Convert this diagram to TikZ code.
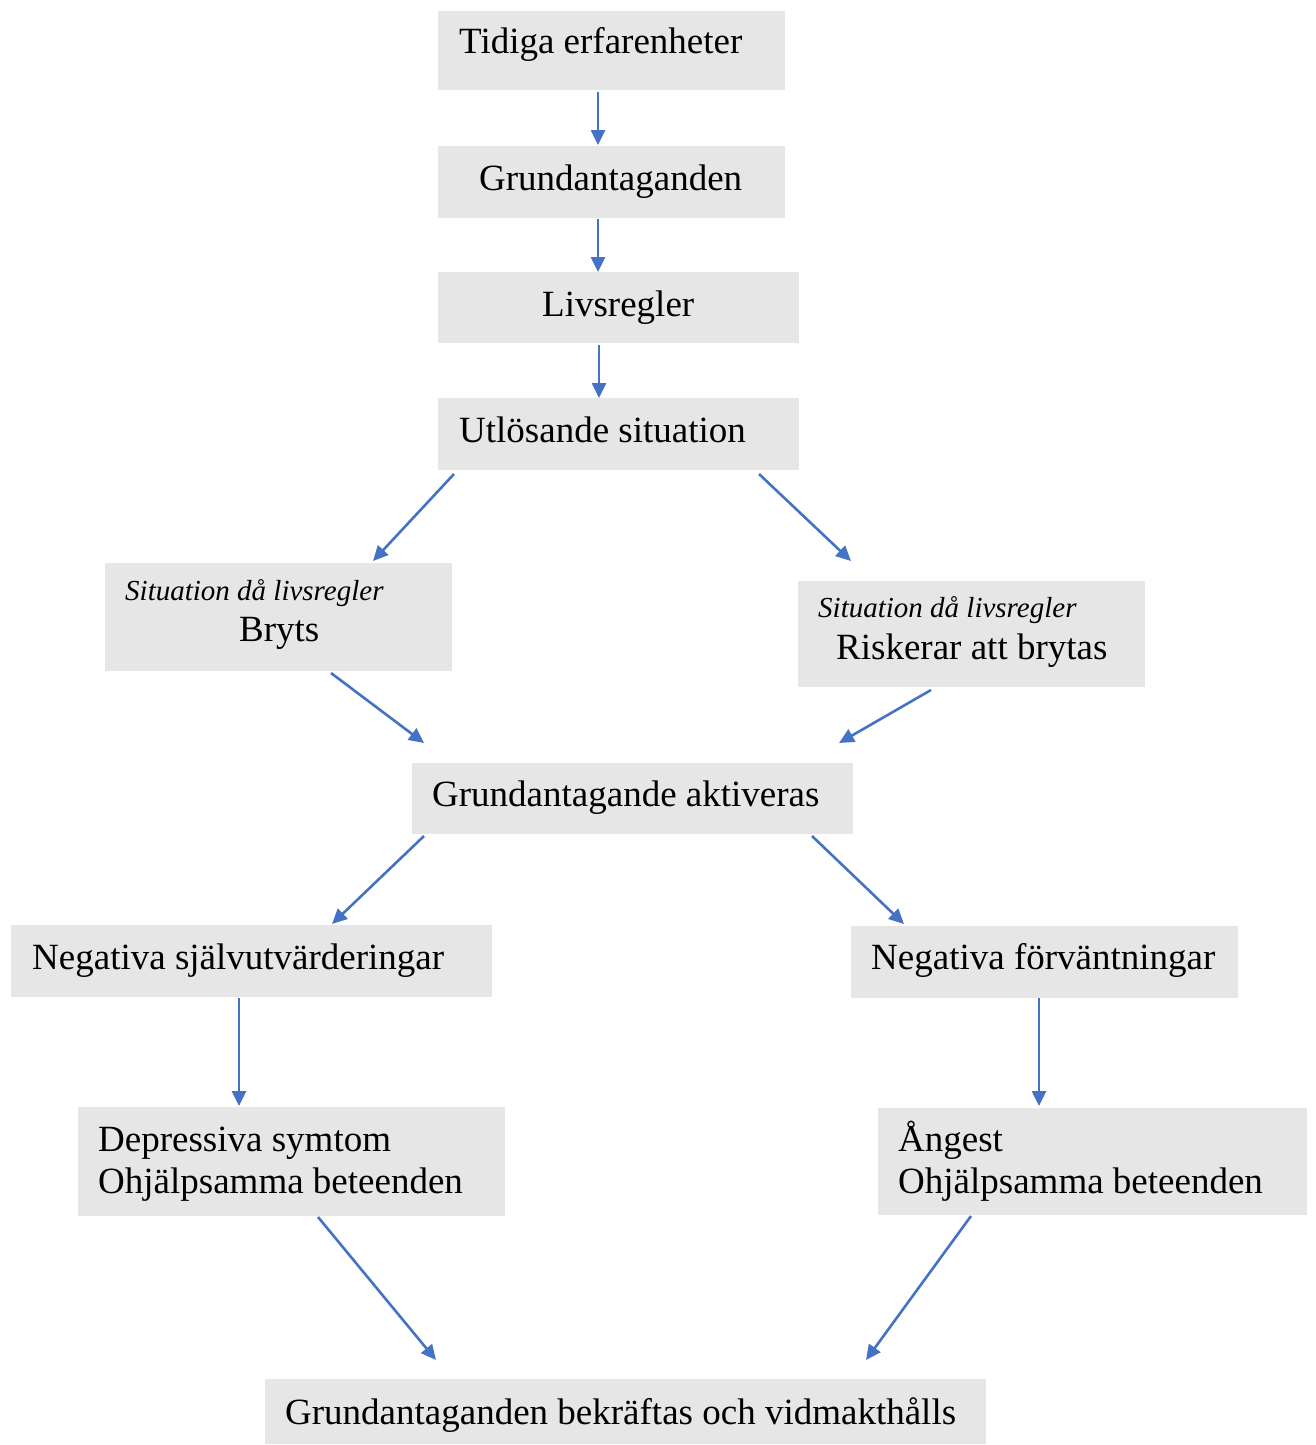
\documentclass[tikz,border=0pt]{standalone}
\usepackage{fontspec}
\setmainfont{Liberation Serif}
\usetikzlibrary{arrows.meta}
\definecolor{boxgray}{HTML}{E6E6E6}
\definecolor{arrowblue}{HTML}{4472C4}
\tikzset{
  box/.style={fill=boxgray, draw=none, inner sep=0pt, anchor=north west},
  txt/.style={anchor=base west, inner sep=0pt, font=\fontsize{37}{44}\selectfont},
  itxt/.style={anchor=base west, inner sep=0pt, font=\fontsize{29}{34}\selectfont\itshape},
  arr/.style={draw=arrowblue, line width=2.6pt, -{Triangle[length=15pt,width=14pt]}}
}
\newcommand{\boxat}[5]{\node[box, minimum width=#4pt, minimum height=#5pt] (#1) at (#2,#3) {};}
\begin{document}
\begin{tikzpicture}[x=1pt,y=-1pt]
\useasboundingbox (0,0) rectangle (1315,1445);
% boxes
\boxat{b1}{438}{11}{347}{79}
\boxat{b2}{438}{146}{347}{72}
\boxat{b3}{438}{272}{361}{71}
\boxat{b4}{438}{398}{361}{72}
\boxat{b5}{105}{563}{347}{108}
\boxat{b6}{798}{581}{347}{106}
\boxat{b7}{412}{763}{441}{71}
\boxat{b8}{11}{925}{481}{72}
\boxat{b9}{851}{926}{387}{72}
\boxat{b10}{78}{1107}{427}{109}
\boxat{b11}{878}{1108}{429}{107}
\boxat{b12}{265}{1379}{721}{65}
% texts
\node[txt] (t1) at (459,54) {Tidiga erfarenheter};
\node[txt] (t2) at (479,190) {Grundantaganden};
\node[txt] (t3) at (542,316) {Livsregler};
\node[txt] (t4) at (459,442) {Utlösande situation};
\node[itxt] (t5a) at (125,600) {Situation då livsregler};
\node[txt] (t5b) at (239,641) {Bryts};
\node[itxt] (t6a) at (818,617) {Situation då livsregler};
\node[txt] (t6b) at (836,659) {Riskerar att brytas};
\node[txt] (t7) at (432,806) {Grundantagande aktiveras};
\node[txt] (t8) at (32,969) {Negativa självutvärderingar};
\node[txt] (t9) at (871,969) {Negativa förväntningar};
\node[txt] (t10a) at (98,1151) {Depressiva symtom};
\node[txt] (t10b) at (98,1193) {Ohjälpsamma beteenden};
\node[txt] (t11a) at (898,1151) {Ångest};
\node[txt] (t11b) at (898,1193) {Ohjälpsamma beteenden};
\node[txt] (t12) at (285,1424) {Grundantaganden bekräftas och vidmakthålls};
% arrow endpoints
\coordinate (a1s) at (598,92);   \coordinate (a1e) at (598,145);
\coordinate (a2s) at (598,219);  \coordinate (a2e) at (598,272);
\coordinate (a3s) at (599,345);  \coordinate (a3e) at (599,398);
\coordinate (a4s) at (454,474);  \coordinate (a4e) at (373,561);
\coordinate (a5s) at (759,474);  \coordinate (a5e) at (851,561);
\coordinate (a6s) at (331,673);  \coordinate (a6e) at (424,743);
\coordinate (a7s) at (931,690);  \coordinate (a7e) at (839,743);
\coordinate (a8s) at (424,836);  \coordinate (a8e) at (332,924);
\coordinate (a9s) at (812,836);  \coordinate (a9e) at (904,924);
\coordinate (a10s) at (239,998); \coordinate (a10e) at (239,1106);
\coordinate (a11s) at (1039,998);\coordinate (a11e) at (1039,1106);
\coordinate (a12s) at (318,1217);\coordinate (a12e) at (436,1360);
\coordinate (a13s) at (971,1216);\coordinate (a13e) at (866,1360);
\foreach \i in {1,...,13} {\draw[arr] (a\i s) -- (a\i e);}
\end{tikzpicture}
\end{document}
